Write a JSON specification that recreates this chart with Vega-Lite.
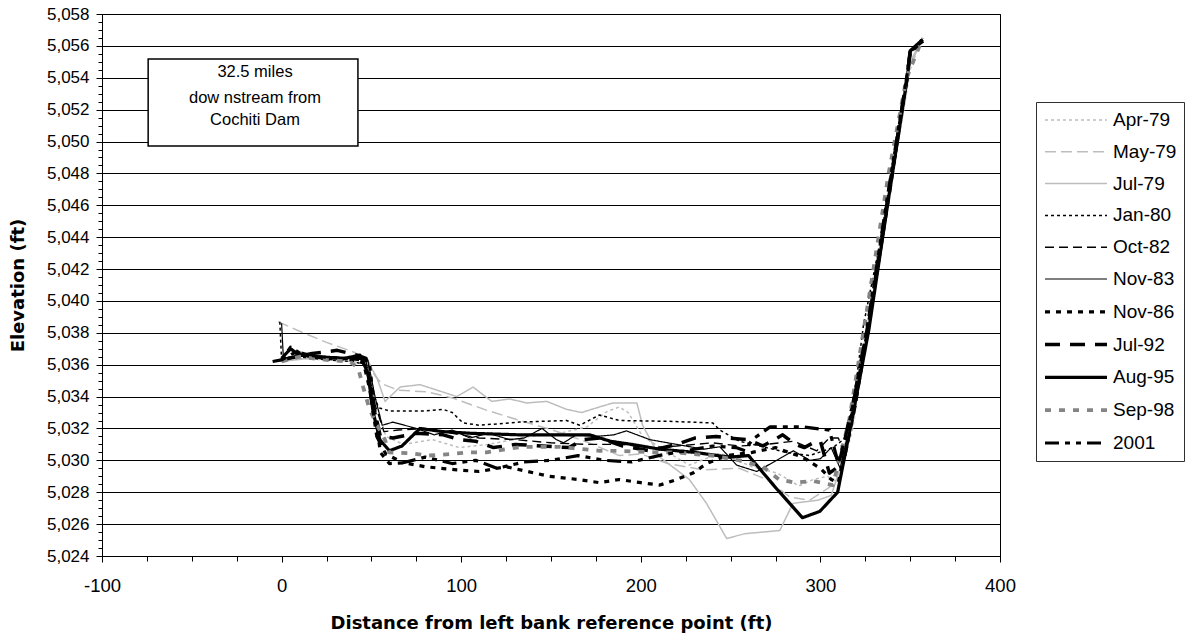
{
  "$schema": "https://vega.github.io/schema/vega-lite/v6.json",
  "autosize": {"type": "none"},
  "padding": {"left": 102, "top": 14, "right": 194, "bottom": 85},
  "width": 898,
  "height": 542,
  "background": "white",
  "config": {
    "view": {"stroke": "black", "strokeWidth": 1},
    "font": "Liberation Sans",
    "legend": {
      "orient": "none",
      "legendX": 934,
      "legendY": 88,
      "title": null,
      "symbolType": "M-1,0H5.2",
      "symbolSize": 400,
      "labelFont": "Liberation Sans",
      "labelFontSize": 19,
      "labelColor": "black",
      "strokeColor": "#303030",
      "fillColor": "white",
      "padding": 7,
      "rowPadding": 10.8,
      "labelOffset": 46
    }
  },
  "resolve": {"axis": {"x": "independent", "y": "independent"}},
  "layer": [
    {
      "data": {"values": [
        {"s":"Apr-79","d":0,"e":5036.2},{"s":"Apr-79","d":10,"e":5036.4},{"s":"Apr-79","d":25,"e":5036.3},{"s":"Apr-79","d":40,"e":5036.2},{"s":"Apr-79","d":48,"e":5036.0},{"s":"Apr-79","d":53,"e":5033.5},{"s":"Apr-79","d":58,"e":5031.5},{"s":"Apr-79","d":68,"e":5031.0},{"s":"Apr-79","d":84,"e":5031.3},{"s":"Apr-79","d":99,"e":5030.8},{"s":"Apr-79","d":115,"e":5031.0},{"s":"Apr-79","d":138,"e":5031.5},{"s":"Apr-79","d":155,"e":5031.7},{"s":"Apr-79","d":170,"e":5032.1},{"s":"Apr-79","d":181,"e":5033.05},{"s":"Apr-79","d":188,"e":5033.35},{"s":"Apr-79","d":193,"e":5033.0},{"s":"Apr-79","d":201,"e":5031.5},{"s":"Apr-79","d":215,"e":5030.5},{"s":"Apr-79","d":227,"e":5029.7},{"s":"Apr-79","d":244,"e":5030.45},{"s":"Apr-79","d":262,"e":5029.6},{"s":"Apr-79","d":276,"e":5029.2},{"s":"Apr-79","d":288,"e":5028.4},{"s":"Apr-79","d":296,"e":5028.8},{"s":"Apr-79","d":304,"e":5029.0},{"s":"Apr-79","d":310,"e":5028.6},{"s":"Apr-79","d":318,"e":5032.0},{"s":"Apr-79","d":327,"e":5038.5},{"s":"Apr-79","d":340,"e":5047.5},{"s":"Apr-79","d":350,"e":5054.5},{"s":"Apr-79","d":356,"e":5056.4},

        {"s":"May-79","d":-2,"e":5038.7},{"s":"May-79","d":10,"e":5038.1},{"s":"May-79","d":25,"e":5037.4},{"s":"May-79","d":40,"e":5036.8},{"s":"May-79","d":48,"e":5036.3},{"s":"May-79","d":52,"e":5035.3},{"s":"May-79","d":56,"e":5034.8},{"s":"May-79","d":65,"e":5034.4},{"s":"May-79","d":81,"e":5034.3},{"s":"May-79","d":95.6,"e":5033.9},{"s":"May-79","d":114,"e":5033.15},{"s":"May-79","d":132.6,"e":5032.5},{"s":"May-79","d":151,"e":5031.9},{"s":"May-79","d":170,"e":5031.15},{"s":"May-79","d":188,"e":5030.3},{"s":"May-79","d":200,"e":5030.4},{"s":"May-79","d":215,"e":5029.8},{"s":"May-79","d":235,"e":5029.4},{"s":"May-79","d":255,"e":5029.5},{"s":"May-79","d":270,"e":5028.8},{"s":"May-79","d":283,"e":5027.7},{"s":"May-79","d":294,"e":5027.5},{"s":"May-79","d":305,"e":5028.3},{"s":"May-79","d":311,"e":5029.0},{"s":"May-79","d":319,"e":5033.0},{"s":"May-79","d":328,"e":5039.0},{"s":"May-79","d":340,"e":5047.5},{"s":"May-79","d":350,"e":5054.8},{"s":"May-79","d":357,"e":5056.5},

        {"s":"Jul-79","d":0,"e":5036.2},{"s":"Jul-79","d":15,"e":5036.4},{"s":"Jul-79","d":30,"e":5036.3},{"s":"Jul-79","d":45,"e":5036.4},{"s":"Jul-79","d":49,"e":5036.0},{"s":"Jul-79","d":53,"e":5035.2},{"s":"Jul-79","d":57.6,"e":5033.7},{"s":"Jul-79","d":66,"e":5034.6},{"s":"Jul-79","d":77,"e":5034.75},{"s":"Jul-79","d":97.6,"e":5034.0},{"s":"Jul-79","d":106.6,"e":5034.6},{"s":"Jul-79","d":117,"e":5033.7},{"s":"Jul-79","d":127,"e":5033.85},{"s":"Jul-79","d":136.5,"e":5033.6},{"s":"Jul-79","d":147.6,"e":5033.7},{"s":"Jul-79","d":158.7,"e":5033.2},{"s":"Jul-79","d":167,"e":5033.0},{"s":"Jul-79","d":177,"e":5033.35},{"s":"Jul-79","d":184.5,"e":5033.6},{"s":"Jul-79","d":197.8,"e":5033.6},{"s":"Jul-79","d":201,"e":5032.2},{"s":"Jul-79","d":210.6,"e":5030.2},{"s":"Jul-79","d":227,"e":5028.8},{"s":"Jul-79","d":236.6,"e":5027.3},{"s":"Jul-79","d":247.8,"e":5025.1},{"s":"Jul-79","d":258,"e":5025.4},{"s":"Jul-79","d":277.4,"e":5025.6},{"s":"Jul-79","d":284.7,"e":5027.3},{"s":"Jul-79","d":298.6,"e":5027.5},{"s":"Jul-79","d":306,"e":5027.8},{"s":"Jul-79","d":311,"e":5029.5},{"s":"Jul-79","d":319,"e":5034.0},{"s":"Jul-79","d":328,"e":5039.5},{"s":"Jul-79","d":340,"e":5048.0},{"s":"Jul-79","d":350,"e":5055.0},{"s":"Jul-79","d":356,"e":5056.3},

        {"s":"Jan-80","d":-1,"e":5038.7},{"s":"Jan-80","d":0,"e":5036.3},{"s":"Jan-80","d":10,"e":5036.5},{"s":"Jan-80","d":25,"e":5036.3},{"s":"Jan-80","d":40,"e":5036.2},{"s":"Jan-80","d":46,"e":5036.0},{"s":"Jan-80","d":50,"e":5034.5},{"s":"Jan-80","d":54,"e":5033.3},{"s":"Jan-80","d":60,"e":5033.1},{"s":"Jan-80","d":80,"e":5033.1},{"s":"Jan-80","d":90,"e":5033.2},{"s":"Jan-80","d":95,"e":5033.0},{"s":"Jan-80","d":101,"e":5032.35},{"s":"Jan-80","d":110,"e":5032.2},{"s":"Jan-80","d":132.6,"e":5032.4},{"s":"Jan-80","d":158.7,"e":5032.5},{"s":"Jan-80","d":166,"e":5032.2},{"s":"Jan-80","d":177,"e":5032.85},{"s":"Jan-80","d":188,"e":5032.5},{"s":"Jan-80","d":215,"e":5032.45},{"s":"Jan-80","d":240,"e":5032.35},{"s":"Jan-80","d":244,"e":5031.9},{"s":"Jan-80","d":255,"e":5031.2},{"s":"Jan-80","d":270,"e":5030.8},{"s":"Jan-80","d":281,"e":5030.5},{"s":"Jan-80","d":294,"e":5030.3},{"s":"Jan-80","d":307,"e":5030.8},{"s":"Jan-80","d":315,"e":5031.5},{"s":"Jan-80","d":320,"e":5035.0},{"s":"Jan-80","d":324,"e":5038.5},{"s":"Jan-80","d":332,"e":5043.0},{"s":"Jan-80","d":342,"e":5049.0},{"s":"Jan-80","d":350,"e":5055.5},{"s":"Jan-80","d":356,"e":5056.4},

        {"s":"Oct-82","d":0,"e":5036.3},{"s":"Oct-82","d":10,"e":5036.7},{"s":"Oct-82","d":25,"e":5036.4},{"s":"Oct-82","d":40,"e":5036.3},{"s":"Oct-82","d":47,"e":5036.2},{"s":"Oct-82","d":52,"e":5033.5},{"s":"Oct-82","d":57,"e":5031.8},{"s":"Oct-82","d":65,"e":5031.9},{"s":"Oct-82","d":80,"e":5032.0},{"s":"Oct-82","d":95,"e":5031.7},{"s":"Oct-82","d":110,"e":5031.4},{"s":"Oct-82","d":130,"e":5031.3},{"s":"Oct-82","d":150,"e":5031.1},{"s":"Oct-82","d":170,"e":5031.0},{"s":"Oct-82","d":190,"e":5031.0},{"s":"Oct-82","d":205,"e":5030.8},{"s":"Oct-82","d":220,"e":5030.9},{"s":"Oct-82","d":240,"e":5031.1},{"s":"Oct-82","d":255,"e":5030.9},{"s":"Oct-82","d":270,"e":5031.0},{"s":"Oct-82","d":285,"e":5031.2},{"s":"Oct-82","d":298,"e":5030.6},{"s":"Oct-82","d":305,"e":5031.4},{"s":"Oct-82","d":310,"e":5031.4},{"s":"Oct-82","d":314,"e":5030.2},{"s":"Oct-82","d":320,"e":5033.5},{"s":"Oct-82","d":328,"e":5039.0},{"s":"Oct-82","d":340,"e":5047.5},{"s":"Oct-82","d":350,"e":5055.6},{"s":"Oct-82","d":357,"e":5056.3},

        {"s":"Nov-83","d":0,"e":5038.6},{"s":"Nov-83","d":1,"e":5036.4},{"s":"Nov-83","d":10,"e":5036.6},{"s":"Nov-83","d":25,"e":5036.5},{"s":"Nov-83","d":40,"e":5036.4},{"s":"Nov-83","d":48,"e":5036.3},{"s":"Nov-83","d":52,"e":5034.0},{"s":"Nov-83","d":56,"e":5032.2},{"s":"Nov-83","d":62,"e":5032.4},{"s":"Nov-83","d":75,"e":5032.0},{"s":"Nov-83","d":85,"e":5031.6},{"s":"Nov-83","d":95,"e":5031.9},{"s":"Nov-83","d":105,"e":5031.4},{"s":"Nov-83","d":115,"e":5031.7},{"s":"Nov-83","d":127,"e":5031.3},{"s":"Nov-83","d":135,"e":5031.4},{"s":"Nov-83","d":145,"e":5032.0},{"s":"Nov-83","d":153,"e":5031.3},{"s":"Nov-83","d":157,"e":5031.1},{"s":"Nov-83","d":164,"e":5031.6},{"s":"Nov-83","d":175,"e":5031.5},{"s":"Nov-83","d":185,"e":5031.6},{"s":"Nov-83","d":192,"e":5031.85},{"s":"Nov-83","d":205,"e":5031.3},{"s":"Nov-83","d":220,"e":5031.0},{"s":"Nov-83","d":235,"e":5030.7},{"s":"Nov-83","d":244,"e":5030.85},{"s":"Nov-83","d":253.4,"e":5029.7},{"s":"Nov-83","d":264.6,"e":5029.3},{"s":"Nov-83","d":285,"e":5030.6},{"s":"Nov-83","d":294,"e":5030.0},{"s":"Nov-83","d":300,"e":5030.1},{"s":"Nov-83","d":306,"e":5030.8},{"s":"Nov-83","d":311,"e":5029.5},{"s":"Nov-83","d":318,"e":5033.0},{"s":"Nov-83","d":327,"e":5038.3},{"s":"Nov-83","d":338,"e":5046.5},{"s":"Nov-83","d":348.5,"e":5054.0},{"s":"Nov-83","d":350,"e":5055.7},{"s":"Nov-83","d":357,"e":5056.3},

        {"s":"Nov-86","d":0,"e":5036.3},{"s":"Nov-86","d":5,"e":5037.1},{"s":"Nov-86","d":12,"e":5036.6},{"s":"Nov-86","d":25,"e":5036.4},{"s":"Nov-86","d":40,"e":5036.3},{"s":"Nov-86","d":49,"e":5036.0},{"s":"Nov-86","d":52,"e":5033.0},{"s":"Nov-86","d":55,"e":5030.5},{"s":"Nov-86","d":60,"e":5029.8},{"s":"Nov-86","d":68,"e":5029.85},{"s":"Nov-86","d":80,"e":5029.6},{"s":"Nov-86","d":97.6,"e":5029.4},{"s":"Nov-86","d":110,"e":5029.3},{"s":"Nov-86","d":125,"e":5029.6},{"s":"Nov-86","d":137,"e":5029.3},{"s":"Nov-86","d":149,"e":5029.0},{"s":"Nov-86","d":165,"e":5028.8},{"s":"Nov-86","d":177,"e":5028.6},{"s":"Nov-86","d":188,"e":5028.8},{"s":"Nov-86","d":200,"e":5028.6},{"s":"Nov-86","d":210.6,"e":5028.45},{"s":"Nov-86","d":220,"e":5028.8},{"s":"Nov-86","d":229,"e":5029.2},{"s":"Nov-86","d":236.6,"e":5029.8},{"s":"Nov-86","d":248,"e":5030.3},{"s":"Nov-86","d":262,"e":5030.5},{"s":"Nov-86","d":275,"e":5030.8},{"s":"Nov-86","d":290,"e":5030.2},{"s":"Nov-86","d":300,"e":5029.5},{"s":"Nov-86","d":306,"e":5028.8},{"s":"Nov-86","d":310,"e":5028.6},{"s":"Nov-86","d":317,"e":5032.5},{"s":"Nov-86","d":326,"e":5038.0},{"s":"Nov-86","d":337,"e":5046.0},{"s":"Nov-86","d":348,"e":5054.0},{"s":"Nov-86","d":350,"e":5055.6},{"s":"Nov-86","d":357,"e":5056.3},

        {"s":"Jul-92","d":0,"e":5036.3},{"s":"Jul-92","d":8,"e":5036.5},{"s":"Jul-92","d":17,"e":5036.7},{"s":"Jul-92","d":31,"e":5036.9},{"s":"Jul-92","d":42,"e":5036.6},{"s":"Jul-92","d":47,"e":5036.4},{"s":"Jul-92","d":51,"e":5033.5},{"s":"Jul-92","d":55,"e":5031.5},{"s":"Jul-92","d":62,"e":5031.4},{"s":"Jul-92","d":75,"e":5031.7},{"s":"Jul-92","d":90,"e":5031.6},{"s":"Jul-92","d":99,"e":5031.3},{"s":"Jul-92","d":108,"e":5031.2},{"s":"Jul-92","d":118,"e":5030.8},{"s":"Jul-92","d":130,"e":5031.0},{"s":"Jul-92","d":145,"e":5030.9},{"s":"Jul-92","d":160,"e":5030.8},{"s":"Jul-92","d":168,"e":5031.3},{"s":"Jul-92","d":177,"e":5031.4},{"s":"Jul-92","d":190,"e":5030.9},{"s":"Jul-92","d":205,"e":5030.6},{"s":"Jul-92","d":220,"e":5031.0},{"s":"Jul-92","d":230,"e":5031.4},{"s":"Jul-92","d":242,"e":5031.5},{"s":"Jul-92","d":249,"e":5031.4},{"s":"Jul-92","d":260,"e":5031.3},{"s":"Jul-92","d":268,"e":5030.9},{"s":"Jul-92","d":279,"e":5031.6},{"s":"Jul-92","d":286,"e":5031.0},{"s":"Jul-92","d":291,"e":5030.8},{"s":"Jul-92","d":296,"e":5031.1},{"s":"Jul-92","d":300,"e":5031.2},{"s":"Jul-92","d":305,"e":5029.2},{"s":"Jul-92","d":310,"e":5029.6},{"s":"Jul-92","d":318,"e":5033.5},{"s":"Jul-92","d":327,"e":5038.8},{"s":"Jul-92","d":338,"e":5046.8},{"s":"Jul-92","d":348.5,"e":5054.2},{"s":"Jul-92","d":350,"e":5055.7},{"s":"Jul-92","d":357,"e":5056.3},

        {"s":"Aug-95","d":0,"e":5036.4},{"s":"Aug-95","d":5,"e":5037.0},{"s":"Aug-95","d":10,"e":5036.6},{"s":"Aug-95","d":20,"e":5036.5},{"s":"Aug-95","d":35,"e":5036.4},{"s":"Aug-95","d":43.6,"e":5036.6},{"s":"Aug-95","d":48,"e":5035.5},{"s":"Aug-95","d":51,"e":5033.0},{"s":"Aug-95","d":54.7,"e":5031.3},{"s":"Aug-95","d":60,"e":5030.6},{"s":"Aug-95","d":67,"e":5030.9},{"s":"Aug-95","d":77,"e":5032.0},{"s":"Aug-95","d":90,"e":5031.8},{"s":"Aug-95","d":105,"e":5031.7},{"s":"Aug-95","d":132.6,"e":5031.6},{"s":"Aug-95","d":171.6,"e":5031.6},{"s":"Aug-95","d":183,"e":5031.2},{"s":"Aug-95","d":195,"e":5031.0},{"s":"Aug-95","d":210.6,"e":5030.7},{"s":"Aug-95","d":230,"e":5030.5},{"s":"Aug-95","d":249.5,"e":5030.2},{"s":"Aug-95","d":260,"e":5030.3},{"s":"Aug-95","d":275,"e":5028.3},{"s":"Aug-95","d":290,"e":5026.4},{"s":"Aug-95","d":299.7,"e":5026.8},{"s":"Aug-95","d":309.6,"e":5028.0},{"s":"Aug-95","d":318,"e":5032.8},{"s":"Aug-95","d":327,"e":5038.2},{"s":"Aug-95","d":338,"e":5046.5},{"s":"Aug-95","d":348.4,"e":5054.0},{"s":"Aug-95","d":350,"e":5055.7},{"s":"Aug-95","d":357,"e":5056.4},

        {"s":"Sep-98","d":0,"e":5036.2},{"s":"Sep-98","d":10,"e":5036.5},{"s":"Sep-98","d":25,"e":5036.3},{"s":"Sep-98","d":38,"e":5036.2},{"s":"Sep-98","d":42.6,"e":5035.8},{"s":"Sep-98","d":45.4,"e":5034.6},{"s":"Sep-98","d":49,"e":5033.2},{"s":"Sep-98","d":53.7,"e":5032.1},{"s":"Sep-98","d":57.5,"e":5031.3},{"s":"Sep-98","d":60,"e":5030.5},{"s":"Sep-98","d":71.5,"e":5030.45},{"s":"Sep-98","d":81.5,"e":5030.3},{"s":"Sep-98","d":95,"e":5030.4},{"s":"Sep-98","d":103,"e":5030.5},{"s":"Sep-98","d":114,"e":5030.5},{"s":"Sep-98","d":133.7,"e":5030.85},{"s":"Sep-98","d":155,"e":5030.85},{"s":"Sep-98","d":177,"e":5030.6},{"s":"Sep-98","d":186.6,"e":5030.6},{"s":"Sep-98","d":208,"e":5030.5},{"s":"Sep-98","d":218,"e":5030.5},{"s":"Sep-98","d":239.7,"e":5030.3},{"s":"Sep-98","d":255,"e":5030.0},{"s":"Sep-98","d":268,"e":5029.6},{"s":"Sep-98","d":277,"e":5028.8},{"s":"Sep-98","d":285.7,"e":5028.6},{"s":"Sep-98","d":296,"e":5028.7},{"s":"Sep-98","d":307,"e":5028.45},{"s":"Sep-98","d":316,"e":5032.5},{"s":"Sep-98","d":326,"e":5039.5},{"s":"Sep-98","d":338,"e":5048.0},{"s":"Sep-98","d":348,"e":5054.0},{"s":"Sep-98","d":357,"e":5056.5},

        {"s":"2001","d":-5,"e":5036.2},{"s":"2001","d":0,"e":5036.3},{"s":"2001","d":8,"e":5036.8},{"s":"2001","d":20,"e":5036.5},{"s":"2001","d":35,"e":5036.4},{"s":"2001","d":45,"e":5036.4},{"s":"2001","d":49,"e":5034.5},{"s":"2001","d":53,"e":5031.5},{"s":"2001","d":58,"e":5030.4},{"s":"2001","d":67.6,"e":5029.85},{"s":"2001","d":80,"e":5030.2},{"s":"2001","d":95,"e":5029.8},{"s":"2001","d":108,"e":5030.0},{"s":"2001","d":120,"e":5029.5},{"s":"2001","d":135,"e":5029.9},{"s":"2001","d":150,"e":5030.0},{"s":"2001","d":165,"e":5030.3},{"s":"2001","d":180,"e":5030.0},{"s":"2001","d":195,"e":5029.9},{"s":"2001","d":210,"e":5030.3},{"s":"2001","d":225,"e":5030.6},{"s":"2001","d":240,"e":5030.9},{"s":"2001","d":253,"e":5030.8},{"s":"2001","d":258,"e":5030.6},{"s":"2001","d":262,"e":5031.3},{"s":"2001","d":272,"e":5032.1},{"s":"2001","d":290,"e":5032.1},{"s":"2001","d":305,"e":5031.9},{"s":"2001","d":310,"e":5029.8},{"s":"2001","d":317,"e":5032.8},{"s":"2001","d":326,"e":5038.3},{"s":"2001","d":337,"e":5046.3},{"s":"2001","d":348,"e":5054.0},{"s":"2001","d":350,"e":5055.6},{"s":"2001","d":357,"e":5056.3}
      ]},
      "mark": {"type": "line", "strokeCap": "butt", "strokeJoin": "round"},
      "encoding": {
        "x": {
          "field": "d", "type": "quantitative",
          "scale": {"domain": [-100, 400], "nice": false, "zero": false},
          "axis": {
            "orient": "bottom",
            "values": [-100, 0, 100, 200, 300, 400],
            "labelExpr": "'' + datum.value",
            "title": "Distance from left bank reference point (ft)",
            "titleFont": "DejaVu Sans", "titleFontSize": 18, "titleFontWeight": "bold", "titleColor": "black",
            "titleX": 449, "titleY": 67, "titleBaseline": "middle", "titleAlign": "center",
            "labelFont": "Liberation Sans", "labelFontSize": 18.5, "labelColor": "black",
            "labelPadding": 14, "tickSize": 6, "tickColor": "black", "domainColor": "black",
            "grid": false, "labelFlush": false
          }
        },
        "y": {
          "field": "e", "type": "quantitative",
          "scale": {"domain": [5024, 5058], "nice": false, "zero": false},
          "axis": {
            "orient": "left",
            "values": [5024,5026,5028,5030,5032,5034,5036,5038,5040,5042,5044,5046,5048,5050,5052,5054,5056,5058],
            "format": ",.0f",
            "title": "Elevation (ft)",
            "titleFont": "DejaVu Sans", "titleFontSize": 18, "titleFontWeight": "bold", "titleColor": "black",
            "titleX": -84, "titleY": 271, "titleAngle": 270, "titleBaseline": "middle", "titleAlign": "center",
            "labelFont": "Liberation Sans", "labelFontSize": 17, "labelColor": "black",
            "labelPadding": 7, "tickSize": 6, "tickColor": "black", "domainColor": "black",
            "grid": true, "gridColor": "#000000", "gridWidth": 1
          }
        },
        "color": {
          "field": "s", "type": "nominal",
          "scale": {
            "domain": ["Apr-79","May-79","Jul-79","Jan-80","Oct-82","Nov-83","Nov-86","Jul-92","Aug-95","Sep-98","2001"],
            "range": ["#bdbdbd","#bdbdbd","#bdbdbd","#000000","#000000","#000000","#000000","#000000","#000000","#858585","#000000"]
          }
        },
        "strokeDash": {
          "field": "s", "type": "nominal",
          "scale": {
            "domain": ["Apr-79","May-79","Jul-79","Jan-80","Oct-82","Nov-83","Nov-86","Jul-92","Aug-95","Sep-98","2001"],
            "range": [[3,3],[11,5],[1,0],[3,3],[9,5],[1,0],[5,6],[15,10],[1,0],[6,8],[14,6,5,6,5,6]]
          }
        },
        "strokeWidth": {
          "field": "s", "type": "nominal",
          "scale": {
            "type": "ordinal",
            "domain": ["Apr-79","May-79","Jul-79","Jan-80","Oct-82","Nov-83","Nov-86","Jul-92","Aug-95","Sep-98","2001"],
            "range": [1.5,1.5,1.5,1.5,1.4,1.2,3.2,3.5,3.2,3.8,3.2]
          }
        }
      }
    },
    {
      "data": {"values": [{"x1": -74.3, "x2": 42.5, "y1": 5055.18, "y2": 5049.72}]},
      "mark": {"type": "rect", "fill": "white", "stroke": "black", "strokeWidth": 1.5},
      "encoding": {
        "x": {"field": "x1", "type": "quantitative", "axis": null},
        "x2": {"field": "x2"},
        "y": {
          "field": "y1", "type": "quantitative",
          "axis": {
            "orient": "left",
            "values": [5024.5,5025,5025.5,5026.5,5027,5027.5,5028.5,5029,5029.5,5030.5,5031,5031.5,5032.5,5033,5033.5,5034.5,5035,5035.5,5036.5,5037,5037.5,5038.5,5039,5039.5,5040.5,5041,5041.5,5042.5,5043,5043.5,5044.5,5045,5045.5,5046.5,5047,5047.5,5048.5,5049,5049.5,5050.5,5051,5051.5,5052.5,5053,5053.5,5054.5,5055,5055.5,5056.5,5057,5057.5],
            "labels": false, "title": null, "domain": false, "grid": false,
            "tickSize": 4, "tickColor": "black"
          }
        },
        "y2": {"field": "y2"}
      }
    },
    {
      "data": {"values": [
        {"tx": -14.8, "ty": 5054.38, "t": "32.5 miles"},
        {"tx": -14.8, "ty": 5052.75, "t": "dow nstream from"},
        {"tx": -14.8, "ty": 5051.35, "t": "Cochiti Dam"}
      ]},
      "mark": {"type": "text", "font": "Liberation Sans", "fontSize": 16.5, "color": "black", "align": "center", "baseline": "middle"},
      "encoding": {
        "x": {
          "field": "tx", "type": "quantitative",
          "axis": {
            "orient": "bottom",
            "values": [-75,-50,-25,25,50,75,125,150,175,225,250,275,325,350,375],
            "labels": false, "title": null, "domain": false, "grid": false,
            "tickSize": 5, "tickColor": "black"
          }
        },
        "y": {"field": "ty", "type": "quantitative", "axis": null},
        "text": {"field": "t"}
      }
    }
  ]
}
